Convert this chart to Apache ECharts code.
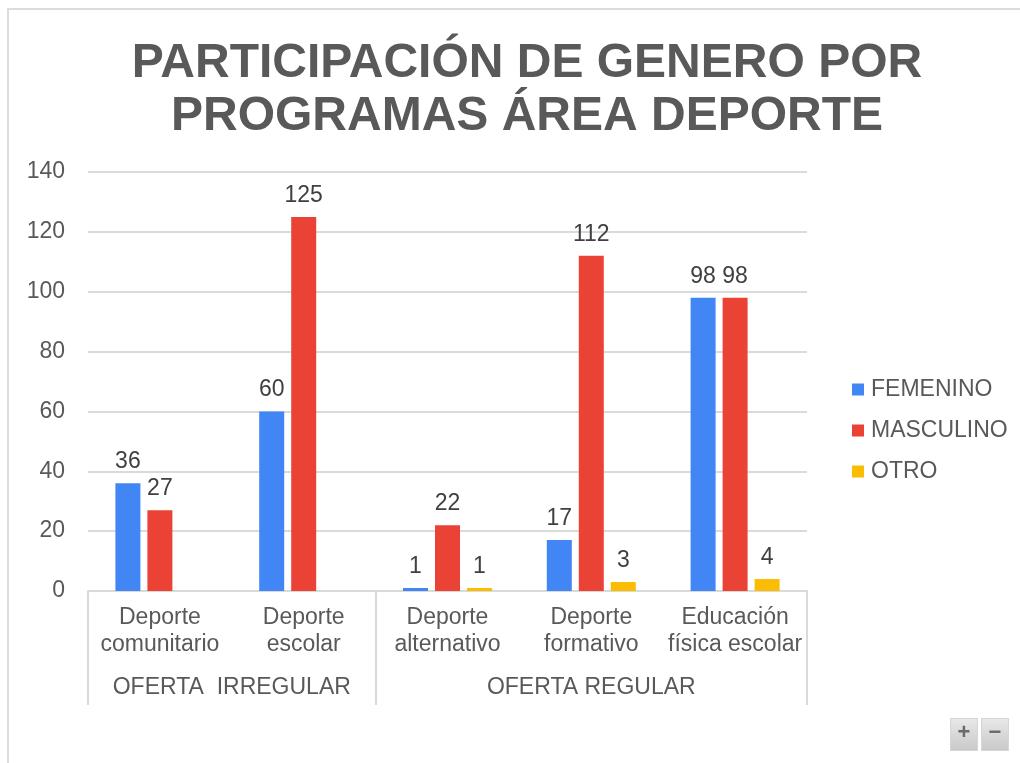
<!DOCTYPE html>
<html>
<head>
<meta charset="utf-8">
<script src="https://cdn.jsdelivr.net/npm/echarts@6/dist/echarts.min.js"></script>
<style>
  html, body { margin: 0; padding: 0; background: #fff; }
  #wrap { position: relative; width: 1020px; height: 763px; overflow: hidden; }
  #chart { position: absolute; left: 0; top: 0; width: 1020px; height: 763px; }
  #frame { position: absolute; left: 7px; top: 8px; right: 0; bottom: 0;
           border-left: 2px solid #dcdcdc; border-top: 2px solid #dcdcdc; pointer-events: none; }
  .zb { position: absolute; top: 718px; width: 28px; height: 33px; line-height: 31px;
        text-align: center; font: bold 22px "Liberation Sans", Arial, sans-serif; color: #6a6a6a;
        background: linear-gradient(#e8e8e8, #c9c9c9); border: 1px solid #d6d6d6; box-sizing: border-box; }
</style>
</head>
<body>
<div id="wrap">
  <div id="chart"></div>
  <div id="frame"></div>
  <div class="zb" style="left:950px">+</div>
  <div class="zb" style="left:981px">−</div>
</div>
<script>
// categorias y grupos
var categorias = ["Deporte\ncomunitario", "Deporte\nescolar", "Deporte\nalternativo", "Deporte\nformativo", "Educación\nfísica escolar"];
var grupos = ["OFERTA  IRREGULAR", "OFERTA REGULAR"];
// cuantas categorias tiene cada grupo
var tamGrupos = [2, 3];

// valores por genero
var femenino = [36, 60, 1, 17, 98];
var masculino = [27, 125, 22, 112, 98];
var otro = [null, null, 1, 3, 4];

var ticksY = [0, 20, 40, 60, 80, 100, 120, 140];

// limites y centros de los grupos en unidades de categoria
var limites = [0];
var centros = [];
tamGrupos.forEach(function (n) {
  var ini = limites[limites.length - 1];
  centros.push(ini + n / 2);
  limites.push(ini + n);
});

var gris = "#595959";
var fuente = "Liberation Sans";

var myChart = echarts.init(document.getElementById("chart"));

function serie(nombre, datos, color) {
  return {
    name: nombre,
    type: "bar",
    barWidth: 25,
    barGap: "28%",
    data: datos,
    itemStyle: { color: color },
    label: {
      show: true,
      position: "top",
      distance: 10,
      color: "#404040",
      fontSize: 23,
      fontFamily: fuente
    }
  };
}

var opts = {
  animation: false,
  backgroundColor: "transparent",
  title: {
    text: "PARTICIPACIÓN DE GENERO POR\nPROGRAMAS ÁREA DEPORTE",
    left: 522,
    top: 32,
    textAlign: "center",
    textStyle: {
      fontFamily: fuente,
      fontWeight: "bold",
      fontSize: 48,
      lineHeight: 53,
      color: gris
    }
  },
  legend: {
    orient: "vertical",
    left: 847,
    top: 373,
    itemWidth: 12,
    itemHeight: 12,
    itemGap: 18,
    icon: "rect",
    textStyle: { color: gris, fontSize: 23, fontFamily: fuente, padding: [0, 0, 0, 2] },
    data: ["FEMENINO", "MASCULINO", "OTRO"]
  },
  grid: {
    left: 88,
    right: 213,
    top: 172,
    bottom: 172,
    containLabel: false
  },
  xAxis: [
    {
      type: "category",
      data: categorias,
      axisLine: { lineStyle: { color: "#dadada", width: 2 } },
      axisTick: { show: false },
      axisLabel: {
        color: gris,
        fontSize: 23,
        lineHeight: 27,
        fontFamily: fuente,
        margin: 13,
        interval: 0
      }
    },
    {
      type: "value",
      position: "bottom",
      min: 0,
      max: categorias.length,
      axisLine: { show: false },
      splitLine: { show: false },
      axisTick: {
        show: true,
        customValues: limites,
        length: 114,
        lineStyle: { color: "#dadada", width: 2 }
      },
      axisLabel: {
        customValues: centros,
        margin: 85,
        color: gris,
        fontSize: 23,
        fontFamily: fuente,
        formatter: function (v) {
          var i = centros.indexOf(v);
          return i >= 0 ? grupos[i] : "";
        }
      }
    }
  ],
  yAxis: {
    type: "value",
    min: ticksY[0],
    max: ticksY[ticksY.length - 1],
    interval: 20,
    axisLine: { show: false },
    axisTick: { show: false },
    splitLine: { lineStyle: { color: "#dadada", width: 2 } },
    axisLabel: { color: gris, fontSize: 23, fontFamily: fuente, margin: 23 }
  },
  series: [
    serie("FEMENINO", femenino, "#4285f4"),
    serie("MASCULINO", masculino, "#ea4335"),
    serie("OTRO", otro, "#fbbc04")
  ]
};

myChart.setOption(opts);
</script>
</body>
</html>
